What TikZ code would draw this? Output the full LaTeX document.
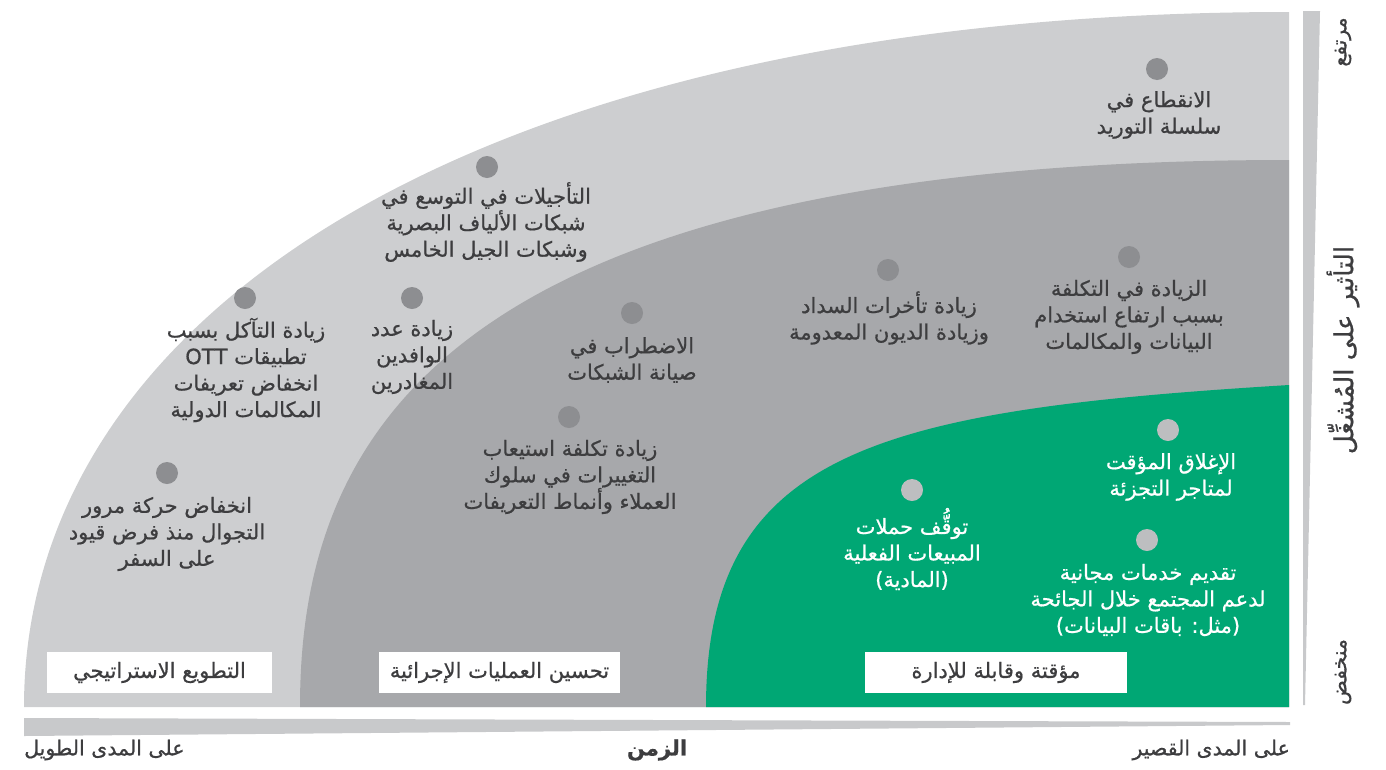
\documentclass[tikz,border=0pt]{standalone}
\usepackage{fontspec}
\usepackage{xcolor}
\usepackage{tikz}
\newfontfamily\arabicfont[Script=Arabic, FakeBold=0.7]{DejaVu Sans}
\TeXXeTstate=1
\newcommand{\ar}[1]{\beginR #1\endR}
\definecolor{lightgrey}{HTML}{CDCED0}
\definecolor{midgrey}{HTML}{A7A8AB}
\definecolor{riskgreen}{HTML}{00A774}
\definecolor{dotgrey}{HTML}{8D8E91}
\definecolor{dotlight}{HTML}{BDBEC0}
\definecolor{textgrey}{HTML}{3D3D3F}
\definecolor{bargrey}{HTML}{C8C9CB}
\tikzset{
	riskdot/.style={circle, fill=dotgrey, minimum size=22pt, inner sep=0pt},
	greendot/.style={riskdot, fill=dotlight},
	risktext/.style={align=center, inner sep=0pt, text=textgrey, font=\arabicfont\fontsize{21}{26.5}\selectfont},
	greentext/.style={risktext, text=white},
	labelbox/.style={fill=white, inner sep=0pt, minimum height=41pt, text=textgrey, font=\arabicfont\fontsize{21}{24}\selectfont},
	axistext/.style={inner sep=0pt, text=textgrey, font=\arabicfont\fontsize{20.5}{24}\selectfont}
}

\begin{document}
\begin{tikzpicture}[x=1pt, y=-1pt]
		\useasboundingbox (0,0) rectangle (1386,769);

		\fill[lightgrey] (24,707) .. controls (24,307) and (490,12) .. (1289,12) -- (1289,707) -- cycle;
		\fill[midgrey] (300,707) .. controls (300,439) and (440,160) .. (1289,160) -- (1289,707) -- cycle;
		\fill[riskgreen] (706,707) .. controls (706,450) and (880,410) .. (1289,385) -- (1289,707) -- cycle;

		\fill[bargrey] (24,718) -- (1290,722) -- (1290,725) -- (24,736) -- cycle;
		\fill[bargrey] (1303,11) -- (1320,11) -- (1305,705) -- (1303,705) -- cycle;

		\node (supply) at (1157,69) [riskdot] {};
		\node (supplytxt) at (1159,115) [risktext] {\ar{الانقطاع في}\\\ar{سلسلة التوريد}};

		\node (fibre) at (487,167) [riskdot] {};
		\node (fibretxt) at (486,222) [risktext] {\ar{التأجيلات في التوسع في}\\\ar{شبكات الألياف البصرية}\\\ar{وشبكات الجيل الخامس}};

		\node (ott) at (245,298) [riskdot] {};
		\node (otttxt) at (246,370) [risktext] {\ar{زيادة التآكل بسبب}\\\ar{تطبيقات \beginL OTT\endL}\\\ar{انخفاض تعريفات}\\\ar{المكالمات الدولية}};

		\node (visitors) at (412,298) [riskdot] {};
		\node (visitorstxt) at (412,357) [risktext] {\ar{زيادة عدد}\\\ar{الوافدين}\\\ar{المغادرين}};

		\node (maint) at (632,313) [riskdot] {};
		\node (mainttxt) at (632,360) [risktext] {\ar{الاضطراب في}\\\ar{صيانة الشبكات}};

		\node (debt) at (888,270) [riskdot] {};
		\node (debttxt) at (889,318) [risktext] {\ar{زيادة تأخرات السداد}\\\ar{وزيادة الديون المعدومة}};

		\node (usage) at (1129,257) [riskdot] {};
		\node (usagetxt) at (1129,317) [risktext] {\ar{الزيادة في التكلفة}\\\ar{بسبب ارتفاع استخدام}\\\ar{البيانات والمكالمات}};

		\node (tariff) at (569,417) [riskdot] {};
		\node (tarifftxt) at (570,477) [risktext] {\ar{زيادة تكلفة استيعاب}\\\ar{التغييرات في سلوك}\\\ar{العملاء وأنماط التعريفات}};

		\node (roaming) at (167,473) [riskdot] {};
		\node (roamingtxt) at (167,534) [risktext] {\ar{انخفاض حركة مرور}\\\ar{التجوال منذ فرض قيود}\\\ar{على السفر}};

		\node (sales) at (912,490) [greendot] {};
		\node (salestxt) at (912,549) [greentext] {\ar{توقُّف حملات}\\\ar{المبيعات الفعلية}\\\ar{(المادية)}};

		\node (retail) at (1168,430) [greendot] {};
		\node (retailtxt) at (1171,477) [greentext] {\ar{الإغلاق المؤقت}\\\ar{لمتاجر التجزئة}};

		\node (free) at (1147,540) [greendot] {};
		\node (freetxt) at (1148,600) [greentext] {\ar{تقديم خدمات مجانية}\\\ar{لدعم المجتمع خلال الجائحة}\\\ar{(مثل: باقات البيانات)}};

		\node (strategic) at (159.5,672.5) [labelbox, minimum width=225pt] {\ar{التطويع الاستراتيجي}};
		\node (process) at (499.5,672.5) [labelbox, minimum width=241pt] {\ar{تحسين العمليات الإجرائية}};
		\node (temporary) at (996,672.5) [labelbox, minimum width=262pt] {\ar{مؤقتة وقابلة للإدارة}};

		\node (longterm) at (24,750) [axistext, anchor=west] {\ar{على المدى الطويل}};
		\node (time) at (657,750) [axistext, font=\arabicfont\bfseries\fontsize{21}{24}\selectfont] {\ar{الزمن}};
		\node (shortterm) at (1290,750) [axistext, anchor=east] {\ar{على المدى القصير}};

		\node (high) at (1343,42) [axistext, rotate=90] {\ar{مرتفع}};
		\node (impact) at (1343,350) [axistext, rotate=90, font=\arabicfont\fontsize{26}{28}\selectfont] {\ar{التأثير على المُشغِّل}};
		\node (low) at (1343,672) [axistext, rotate=90] {\ar{منخفض}};
	\end{tikzpicture}
\end{document}
